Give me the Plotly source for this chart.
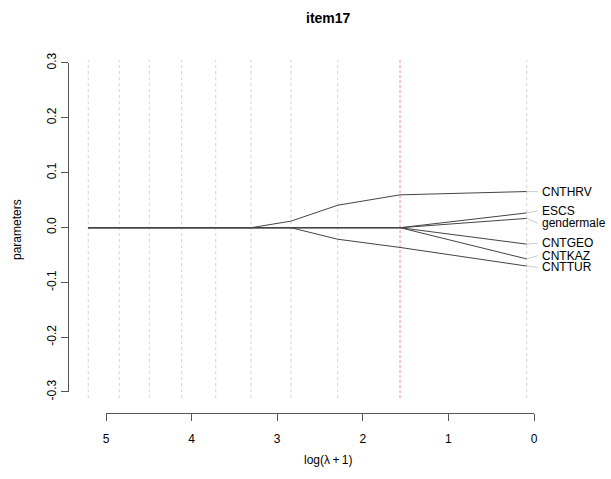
import plotly.graph_objects as go

# log(lambda+1) grid of the path
lam = [5.207, 4.845, 4.494, 4.116, 3.718, 3.306, 2.839, 2.293, 1.565, 0.085]
selected = 1.565

names = ["CNTHRV", "ESCS", "gendermale", "CNTGEO", "CNTKAZ", "CNTTUR"]
CNTHRV = [0, 0, 0, 0, 0, 0, 0.012, 0.041, 0.060, 0.066]
ESCS = [0, 0, 0, 0, 0, 0, 0, 0, 0, 0.027]
gendermale = [0, 0, 0, 0, 0, 0, 0, 0, 0, 0.017]
CNTGEO = [0, 0, 0, 0, 0, 0, 0, 0, 0, -0.030]
CNTKAZ = [0, 0, 0, 0, 0, 0, 0, 0, 0, -0.057]
CNTTUR = [0, 0, 0, 0, 0, 0, 0, -0.021, -0.036, -0.070]
series = [CNTHRV, ESCS, gendermale, CNTGEO, CNTKAZ, CNTTUR]
label_y = [0.0657, 0.031, 0.008, -0.0285, -0.051, -0.0723]

x_ticks = [0, 1, 2, 3, 4, 5]
y_ticks = [-0.3, -0.2, -0.1, 0.0, 0.1, 0.2, 0.3]
y_ticktext = ["-0.3", "-0.2", "-0.1", "0.0", "0.1", "0.2", "0.3"]

FONT = "Liberation Sans, Arial, sans-serif"
LINE = "#444444"
AXC = "#555555"

fig = go.Figure()

# vertical grid lines at lambda values
for lv in lam:
    if lv == selected:
        ln = dict(color="rgba(240,110,130,0.8)", width=1, dash="3px,2px")
    else:
        ln = dict(color="rgba(205,205,205,0.9)", width=1, dash="3px,3px")
    fig.add_trace(go.Scatter(x=[lv, lv], y=[-0.311, 0.306], mode="lines", line=ln,
                             hoverinfo="skip", showlegend=False))

# coefficient paths
for nm, vals in zip(names, series):
    fig.add_trace(go.Scatter(x=lam, y=vals, mode="lines", name=nm,
                             line=dict(color=LINE, width=1), showlegend=False))

# leader lines to labels
label_x0 = -0.045
for vals, ly in zip(series, label_y):
    fig.add_trace(go.Scatter(x=[lam[-1], label_x0], y=[vals[-1], ly], mode="lines",
                             line=dict(color="#cccccc", width=1), showlegend=False,
                             hoverinfo="skip"))

for nm, ly in zip(names, label_y):
    fig.add_annotation(x=-0.075, y=ly, xref="x", yref="y", text=nm, showarrow=False,
                       xanchor="left", yanchor="middle",
                       font=dict(family=FONT, size=12, color="black"))

# dummy trace for R-style axes subplot
fig.add_trace(go.Scatter(x=[None], y=[None], xaxis="x2", yaxis="y2", showlegend=False,
                         hoverinfo="skip"))

fig.update_layout(
    width=611, height=479,
    margin=dict(l=60, r=51, t=50, b=59),
    paper_bgcolor="white", plot_bgcolor="rgba(0,0,0,0)",
    xaxis=dict(range=[5.537, -0.3037], visible=False, domain=[0, 1]),
    yaxis=dict(range=[-0.3509, 0.3243], visible=False, domain=[0, 1]),
    xaxis2=dict(domain=[0.092, 0.948], anchor="free", position=0.0189, range=[5, 0],
                tickvals=x_ticks, ticktext=[str(t) for t in x_ticks],
                ticks="outside", ticklen=7, tickcolor=AXC, showline=True, linecolor=AXC,
                showgrid=False, zeroline=False, ticklabelstandoff=8,
                tickfont=dict(family=FONT, size=12, color="black")),
    yaxis2=dict(domain=[0.0757, 0.9649], anchor="free", position=0.016, range=[-0.3, 0.3],
                tickvals=y_ticks, ticktext=y_ticktext, tickangle=-90,
                ticks="outside", ticklen=7, tickcolor=AXC, showline=True, linecolor=AXC,
                showgrid=False, zeroline=False,
                tickfont=dict(family=FONT, size=12, color="black")),
    showlegend=False,
)

fig.add_annotation(text="<b>item17</b>", xref="paper", yref="paper", x=0.536,
                   y=(420 - 18) / 370, showarrow=False, xanchor="center", yanchor="middle",
                   font=dict(family=FONT, size=14, color="black"))
fig.add_annotation(text="log(λ\u2009+\u20091)", xref="paper", yref="paper", x=0.536,
                   y=(420 - 460) / 370, showarrow=False, xanchor="center", yanchor="middle",
                   font=dict(family=FONT, size=12, color="black"))
fig.add_annotation(text="parameters", xref="paper", yref="paper", x=(17 - 60) / 500,
                   y=(420 - 230) / 370, showarrow=False, textangle=-90,
                   xanchor="center", yanchor="middle",
                   font=dict(family=FONT, size=12, color="black"))

fig.write_html("out.html", config={"displayModeBar": False},
               post_script="document.body.style.margin='0px';")
